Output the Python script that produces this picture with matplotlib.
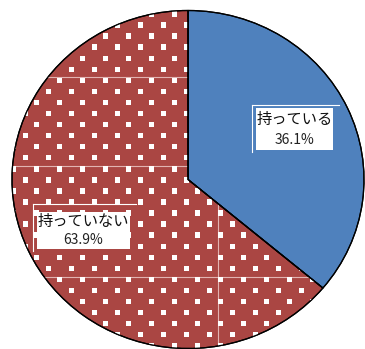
import matplotlib
matplotlib.use("Agg")
import matplotlib.pyplot as plt
import numpy as np
from matplotlib.patches import Rectangle, PathPatch
from matplotlib.collections import PatchCollection

plt.rcParams["font.family"] = ["Noto Sans CJK JP", "DejaVu Sans"]

# share of respondents
categories = ["持っている", "持っていない"]
shares = [36.1, 63.9]

BLUE = "#4F81BD"
RED = "#AA4643"
SEAM = "#E2B4B2"
W, H = 365, 349

fig = plt.figure(figsize=(W / 100, H / 100), dpi=100)

# pie bounding box in pixels (left, top, right, bottom)
pl, pt, pr, pb = 12, 10.5, 364, 348.5
ax = fig.add_axes([pl / W, (H - pb) / H, (pr - pl) / W, (pb - pt) / H])
wedges, _ = ax.pie(
    shares,
    colors=[BLUE, RED],
    startangle=90,
    counterclock=False,
    radius=1,
    wedgeprops=dict(edgecolor="black", linewidth=0.9),
)
ax.set_xlim(-1, 1)
ax.set_ylim(-1, 1)
ax.set_aspect("auto")
ax.axis("off")

# overlay in pixel coordinates for the dot pattern, seams and labels
px = fig.add_axes([0, 0, 1, 1])
px.set_xlim(0, W)
px.set_ylim(H, 0)
px.axis("off")

red_wedge = wedges[1]

# staggered white square dots
x0, y0, dx, dy, sz = 36.7, 257.3, 23.0, 11.06, 5.4
dots = []
for j in range(-30, 12):
    y = y0 + dy * j
    off = (j % 2) * dx / 2
    for i in range(-3, 18):
        x = x0 + off + dx * i
        dots.append(Rectangle((x - sz / 2, y - sz / 2), sz, sz))
pc = PatchCollection(dots, facecolor="white", edgecolor="none", zorder=2)
px.add_collection(pc)
pc.set_clip_path(red_wedge)

# faint tile seams inside the patterned slice
for y in [77.3, 166.0, 277.3]:
    ln, = px.plot([0, W], [y, y], color=SEAM, lw=0.8, zorder=1.5)
    ln.set_clip_path(red_wedge)
ln, = px.plot([218.3, 218.3], [0, H], color=SEAM, lw=0.8, zorder=1.5)
ln.set_clip_path(red_wedge)

# redraw the outline on top of the pattern
for w in wedges:
    px.add_patch(PathPatch(w.get_path(), transform=w.get_transform(), fill=False,
                           edgecolor="black", linewidth=0.9, zorder=3))


def label_box(x1, y1, x2, y2, fx, fy, name, share):
    px.add_patch(Rectangle((x1, y1), x2 - x1, y2 - y1, facecolor="white",
                           edgecolor="none", zorder=4))
    px.plot([fx, x2 + (x1 - fx) * 1.5], [fy, fy], color="white", lw=0.8, zorder=4)
    px.plot([fx, fx], [fy, y2 + 2], color="white", lw=0.8, zorder=4)
    cx = (x1 + x2) / 2
    px.text(cx, y1 + (y2 - y1) * 0.27, name, ha="center", va="center",
            fontsize=11, color="#111111", zorder=5)
    px.text(cx, y1 + (y2 - y1) * 0.76, f"{share:.1f}%", ha="center", va="center",
            fontsize=10, color="#222222", zorder=5)


label_box(256, 108, 333, 150, 252.3, 105, categories[0], shares[0])
label_box(37, 212, 130, 249, 33, 204, categories[1], shares[1])

fig.savefig("out.png", dpi=100)
